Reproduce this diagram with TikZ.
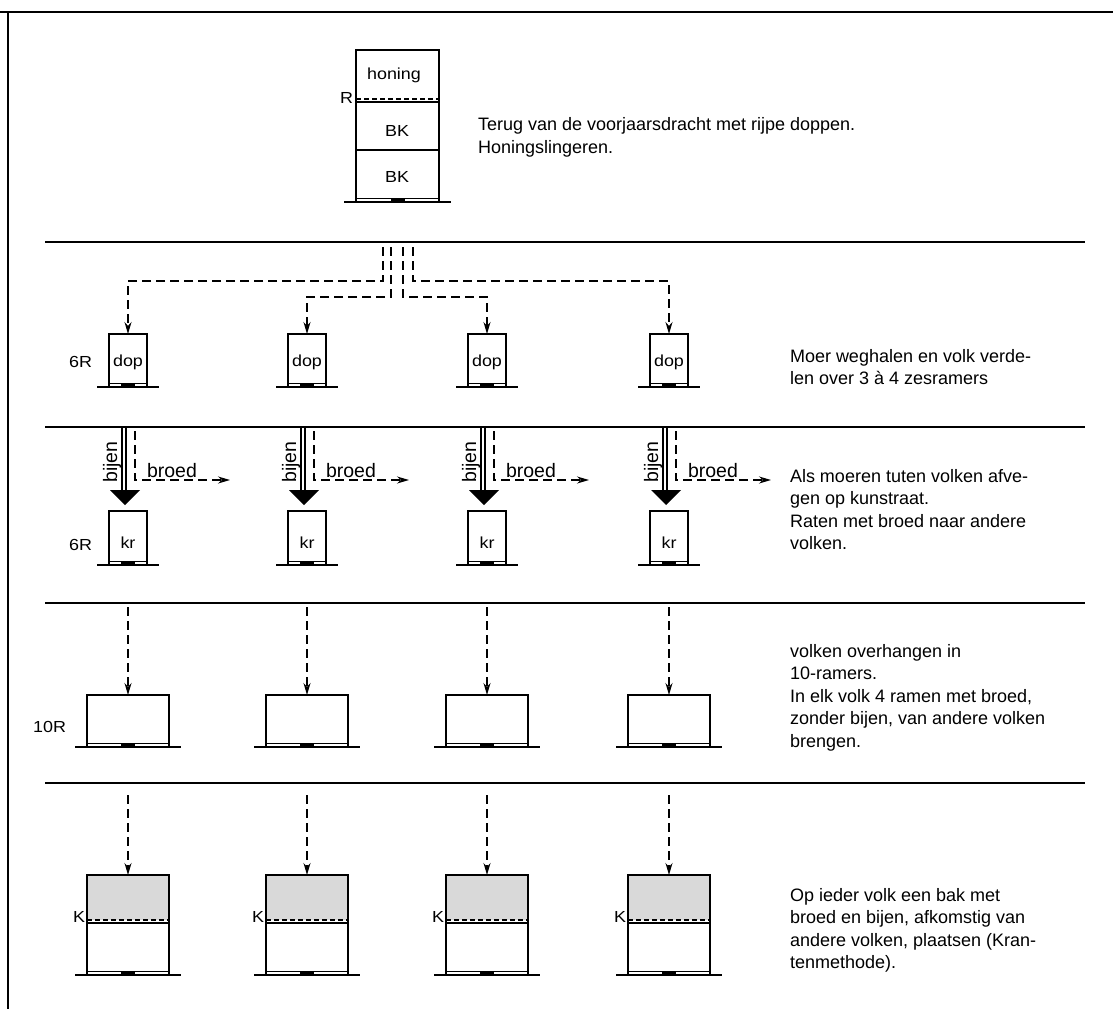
\documentclass[tikz,border=0pt]{standalone}
\usepackage{fontspec}
\setmainfont{Liberation Sans}
\newfontfamily\lblfont[FakeStretch=1.12]{Liberation Sans}
\usetikzlibrary{arrows.meta}
\newcommand\hive[5]{% name, cx, top, ybottom, halfwidth
  \node[hivebox, minimum width={2*#5}, minimum height={#4-#3}] (#1) at (#2,#3) {};
  \draw[line width=1pt] ([yshift=4pt]#1.south west) -- ([yshift=4pt]#1.south east);
  \fill ([xshift=-7pt]#1.south) rectangle ([xshift=7pt,yshift=4pt]#1.south);
  \draw[hbase] ([xshift=-12pt]#1.south west) -- ([xshift=12pt]#1.south east);
}
\begin{document}
\begin{tikzpicture}[x=1pt,y=-1pt,
 every node/.style={inner sep=0pt, outer sep=0pt},
 frame/.style={line width=1.6pt},
 sepline/.style={line width=1.6pt},
 hivebox/.style={draw, line width=1.8pt, anchor=north},
 hbase/.style={line width=2pt},
 dashln/.style={line width=1.5pt, dash pattern=on 9pt off 5pt},
 arrowtip/.style={-{Stealth[length=12pt,width=7pt]}},
 excl/.style={line width=1.8pt, dash pattern=on 5pt off 3pt},
 desc/.style={anchor=north west, align=left, font=\fontsize{18}{22.6}\selectfont},
 lbl/.style={font=\lblfont\fontsize{16}{18}\selectfont},
 big/.style={font=\fontsize{19.5}{21}\selectfont},
]
\fill[white] (0,0) rectangle (1113,1009);
\useasboundingbox (0,0) rectangle (1113,1009);

% frame
\coordinate (fT0) at (0,12); \coordinate (fTR) at (1113,12);
\coordinate (fTL) at (8,12); \coordinate (fBL) at (8,1009);
\draw[frame] (fT0) -- (fTR);
\draw[frame] (fTL) -- (fBL);

% separators
\foreach \y [count=\i] in {242,427,603,783} {
  \coordinate (sL\i) at (45,\y); \coordinate (sR\i) at (1085,\y);
  \draw[sepline] (sL\i) -- (sR\i);
}

% top hive
\hive{top}{397.5}{50}{202}{41.5}
\draw[excl] (356,99) -- (439,99);
\draw[line width=1.6pt] (356,102) -- (439,102);
\draw[line width=1.6pt] (356,150) -- (439,150);
\node[lbl] (thon) at (394,75) {honing};
\node[lbl] (tbk1) at (397,131) {BK};
\node[lbl] (tbk2) at (397,177) {BK};
\node[lbl, anchor=east] (tR) at (353,98) {R};
\node[desc] (txt1) at (478,117.7) {Terug van de voorjaarsdracht met rijpe doppen.\\Honingslingeren.};

% row 2
\foreach \cx/\i in {128/1,307/2,487/3,669/4} {
  \hive{d\i}{\cx}{334}{387}{19}
  \node[lbl] (dl\i) at (\cx,362) {dop};
}
\node[lbl, anchor=east] (r2l) at (92,362) {6R};
\coordinate (v1) at (383,247); \coordinate (v2) at (391,247);
\coordinate (v3) at (403,247); \coordinate (v4) at (413,247);
\draw[dashln,arrowtip] (v1) |- ([yshift=53pt]d1.north) -- (d1.north);
\draw[dashln,arrowtip] (v2) |- ([yshift=37pt]d2.north) -- (d2.north);
\draw[dashln,arrowtip] (v3) |- ([yshift=37pt]d3.north) -- (d3.north);
\draw[dashln,arrowtip] (v4) |- ([yshift=53pt]d4.north) -- (d4.north);
\node[desc] (txt2) at (790,349) {Moer weghalen en volk verde-\\len over 3 à 4 zesramers};

% row 3
\foreach \cx/\i in {128/1,307/2,487/3,669/4} {
  \hive{k\i}{\cx}{511}{565}{19}
  \node[lbl] (kl\i) at (\cx,543) {kr};
  \coordinate (ba\i) at (\cx-6,428); \coordinate (bb\i) at (\cx-6,490);
  \coordinate (bc\i) at (\cx-2,428); \coordinate (bd\i) at (\cx-2,490);
  \draw[line width=1.5pt] (ba\i) -- (bb\i);
  \draw[line width=1.5pt] (bc\i) -- (bd\i);
  \fill (\cx-18,490) -- (\cx+12,490) -- (\cx-3,505) -- cycle;
  \coordinate (ps\i) at (\cx+7,431); \coordinate (pe\i) at (\cx+102,480);
  \draw[dashln,arrowtip] (ps\i) |- (pe\i);
  \node[big,rotate=90] (bj\i) at (\cx-16,462) {bijen};
  \node[big,anchor=base west] (br\i) at (\cx+19,477) {broed};
}
\node[lbl, anchor=east] (r3l) at (92,545) {6R};
\node[desc] (txt3) at (790,469) {Als moeren tuten volken afve-\\gen op kunstraat.\\Raten met broed naar andere\\volken.};

% row 4
\foreach \cx/\i in {128/1,307/2,487/3,669/4} {
  \hive{t\i}{\cx}{695}{747}{41}
  \coordinate (ta\i) at (\cx,607);
  \draw[dashln,arrowtip] (ta\i) -- (t\i.north);
}
\node[lbl, anchor=east] (r4l) at (66,727) {10R};
\node[desc] (txt4) at (790,644) {volken overhangen in\\10-ramers.\\In elk volk 4 ramen met broed,\\zonder bijen, van andere volken\\brengen.};

% row 5
\foreach \cx/\i in {128/1,307/2,487/3,669/4} {
  \fill[black!15] (\cx-41,875) rectangle (\cx+41,920);
  \hive{f\i}{\cx}{875}{975}{41}
  \draw[excl] (\cx-41,920) -- (\cx+41,920);
  \draw[line width=1.6pt] (\cx-41,923) -- (\cx+41,923);
  \node[lbl, anchor=east] (kk\i) at (\cx-43,917) {K};
  \coordinate (fa\i) at (\cx,795);
  \draw[dashln,arrowtip] (fa\i) -- (f\i.north);
}
\node[desc] (txt5) at (790,888) {Op ieder volk een bak met\\broed en bijen, afkomstig van\\andere volken, plaatsen (Kran-\\tenmethode).};
\end{tikzpicture}
\end{document}
